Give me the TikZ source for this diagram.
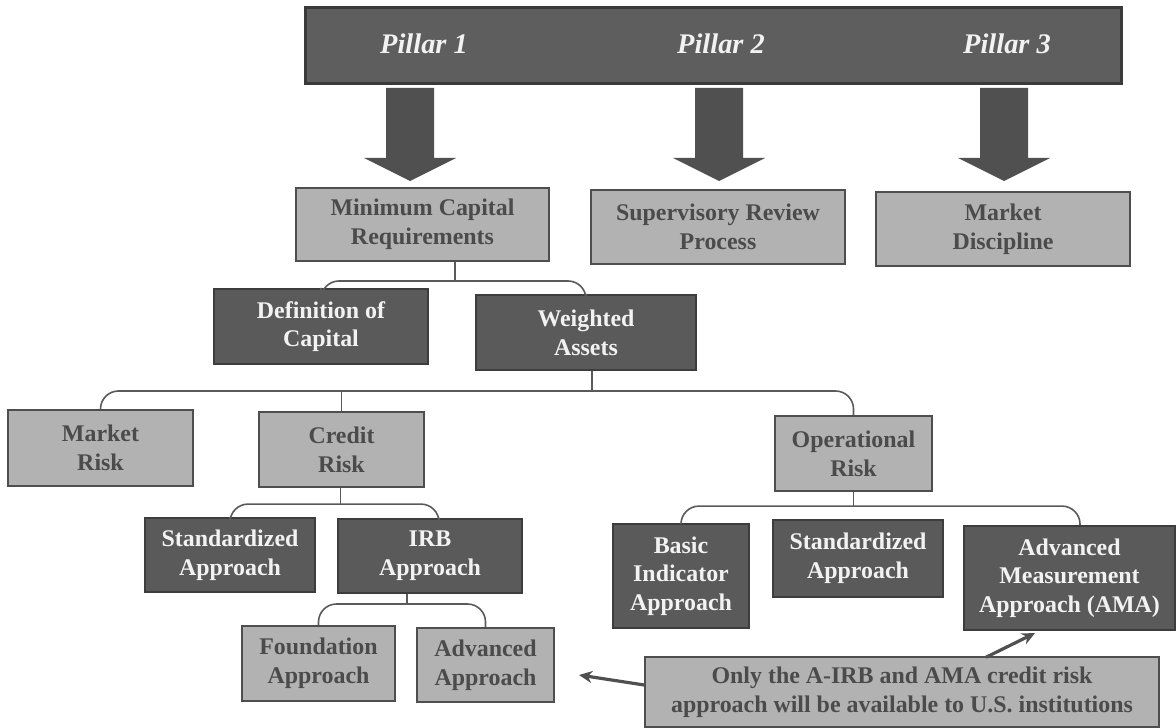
\documentclass[tikz,border=0pt]{standalone}
\usepackage{fontspec}
\setmainfont{Liberation Serif}
\usetikzlibrary{calc,arrows.meta}
\definecolor{barfill}{HTML}{5E5E5E}
\definecolor{barline}{HTML}{3A3A3A}
\definecolor{darkfill}{HTML}{5A5A5A}
\definecolor{darkline}{HTML}{3D3D3D}
\definecolor{darktext}{HTML}{F2F2F2}
\definecolor{lightfill}{HTML}{B2B2B2}
\definecolor{lightline}{HTML}{4E4E4E}
\definecolor{lighttext}{HTML}{4B4B4B}
\definecolor{arrowcol}{HTML}{505050}
\definecolor{conncol}{HTML}{5A5A5A}
\tikzset{
  boxbase/.style={rectangle, inner sep=0pt, align=center, line width=2.2bp,
    font=\fontsize{24}{28.8}\selectfont\bfseries},
  lightbox/.style={boxbase, fill=lightfill, draw=lightline, text=lighttext},
  darkbox/.style={boxbase, fill=darkfill, draw=darkline, text=darktext},
  topbar/.style={rectangle, inner sep=0pt, fill=barfill, draw=barline, line width=3bp},
  pillar/.style={inner sep=0pt, text=darktext, font=\fontsize{28.5}{30}\selectfont\bfseries\itshape},
  conn/.style={draw=conncol, line width=1.6bp, rounded corners=18bp},
  blockarrow/.style={fill=arrowcol},
  callout/.style={draw=arrowcol, line width=3.2bp, -{Stealth[length=13bp,width=12bp]}},
  sz/.style 2 args={minimum width=#1bp, minimum height=#2bp}
}
\begin{document}
\begin{tikzpicture}[x=1bp,y=-1bp]
\useasboundingbox (0,0) rectangle (1176,728);
% top bar
\node[topbar, sz={815}{76}] (bar) at (713.5,46) {};
\node[pillar] (p1) at (424,44) {Pillar 1};
\node[pillar] (p2) at (721,44) {Pillar 2};
\node[pillar] (p3) at (1007,44) {Pillar 3};
% block arrows
\foreach \cx in {410,719,1004}{
  \fill[blockarrow] (\cx-24,88) -- (\cx+24,88) -- (\cx+24,158) -- (\cx+46,158)
    -- (\cx,181) -- (\cx-46,158) -- (\cx-24,158) -- cycle;
}
% level 1
\node[lightbox, sz={253}{73}] (mcr) at (422.5,224.5) {Minimum Capital\\Requirements};
\node[lightbox, sz={254}{74}] (srp) at (718,227) {Supervisory Review\\Process};
\node[lightbox, sz={254}{74}] (md) at (1003,229) {Market\\Discipline};
% level 2
\node[darkbox, sz={214}{75}] (doc) at (321,326.5) {Definition of\\Capital};
\node[darkbox, sz={220}{75}] (wa) at (586,332.5) {Weighted\\Assets};
% level 3
\node[lightbox, sz={185}{76}] (mr) at (100.5,448) {Market\\Risk};
\node[lightbox, sz={165}{75}] (cr) at (341.5,449.5) {Credit\\Risk};
\node[lightbox, sz={157}{75}] (opr) at (853.5,453.5) {Operational\\Risk};
% level 4
\node[darkbox, sz={170}{74}] (sa) at (230,555) {Standardized\\Approach};
\node[darkbox, sz={184}{74}] (irb) at (430,556) {IRB\\Approach};
\node[darkbox, sz={136}{104}] (bia) at (681,576) {Basic\\Indicator\\Approach};
\node[darkbox, sz={170}{77}] (sao) at (858,558.5) {Standardized\\Approach};
\node[darkbox, sz={211}{104}] (ama) at (1069.5,578) {Advanced\\Measurement\\Approach (AMA)};
% level 5
\node[lightbox, sz={153}{75}] (fa) at (318.5,663.5) {Foundation\\Approach};
\node[lightbox, sz={137}{74}] (aa) at (485.5,665) {Advanced\\Approach};
% note
\node[lightbox, sz={514}{70}, line width=1.5bp] (note) at (902,692) {Only the A-IRB and AMA credit risk\\approach will be available to U.S. institutions};
% connectors
\coordinate (j1) at (455,281);
\draw[conn] (j1 |- mcr.south) -- (j1);
\draw[conn] (doc.north) |- (j1) -| (wa.north);
\coordinate (j2) at (592,391);
\draw[conn] (j2 |- wa.south) -- (j2);
\draw[conn] (mr.north) |- (j2) -| (opr.north);
\draw[conn] (cr.north) -- (cr.north |- j2);
\coordinate (j3) at ($(cr.south)+(-1,16)$);
\coordinate (irbt) at ($(irb.north)+(9,0)$);
\draw[conn] (j3 |- cr.south) -- (j3);
\draw[conn] (sa.north) |- (j3) -| (irbt);
\coordinate (j4) at (407,604);
\draw[conn] (j4 |- irb.south) -- (j4);
\draw[conn] (fa.north) |- (j4) -| (aa.north);
\coordinate (j5) at ($(opr.south)+(0,14)$);
\coordinate (amat) at ($(ama.north)+(10.5,0)$);
\draw[conn] (opr.south) -- (j5);
\draw[conn] (bia.north) |- (j5) -| (amat);
% callout arrows
\draw[callout] ($(note.west)+(0,-7)$) -- ($(aa.east)+(24,10)$);
\draw[callout] ($(note.north)+(84,1)$) -- ($(ama.south)+(-34.5,2)$);
\end{tikzpicture}
\end{document}
